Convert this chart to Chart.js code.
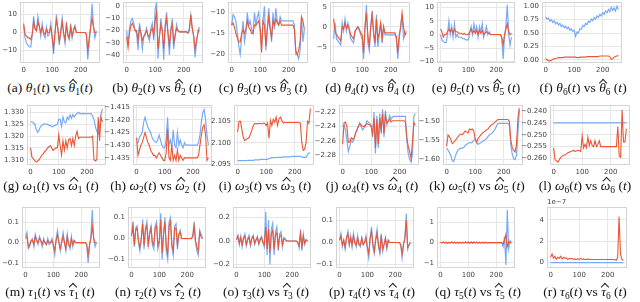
<!DOCTYPE html>
<html><head><meta charset="utf-8">
<script src="https://cdn.jsdelivr.net/npm/chart.js@4.4.0/dist/chart.umd.min.js"></script>
<style>
body{margin:0;width:640px;height:302px;background:#fff;position:relative;overflow:hidden}
canvas{position:absolute}
.cap{position:absolute;font-family:"Liberation Serif","DejaVu Serif",serif;font-size:13.5px;line-height:15px;white-space:nowrap;transform:translateX(-50%);color:#111}
.cap i{font-style:italic}
.cap sub{font-size:0.7em;vertical-align:-0.3em;line-height:0}
.cap .hat{position:relative;display:inline-block}
.cap .hat::after{content:"";position:absolute;left:50%;margin-left:-1.6px;top:0px;width:4.5px;height:4.5px;border-left:1px solid #222;border-top:1px solid #222;transform:rotate(45deg)}
.off{position:absolute;font-family:"DejaVu Sans",sans-serif;font-size:7px;color:#444}
</style></head><body>
<script>
// time axis (categories)
const T = [0,5,10,15,20,25,30,35,40,45,50,55,60,65,70,75,80,85,90,95,100,105,110,115,120,125,130,135,140,145,150,155,160,165,170,175,180,185,190,195,200,205,210,215,220,225,230,235,240,245,250,255];
const X_TICKS = [0,100,200];

// (a) theta1
const thetaTrue1 = [4,-3,-6,-7,-8,-8,-2,9,2,1, 9,4,-2,5,-1,-3,3,-2,-1,5, -3,-12,0,10,2,-7,1,8,-1,-6, 6,-2,-4,5,-3,2,4,0,0,0, 0,0,0,0,-1, -15,-5,4,16,3,-3,1];
const thetaPred1 = [5,-1,-2,-3,-3,-4,-1,6,2,1, 6,3,0,3,0,-1,2,0,0,3, -2,-9,0,7,2,-5,0,6,0,-4, 4,-1,-3,3,-2,1,3,0,0,0, 0,0,0,0,-1, -10,-3,3,8,3,0,0];
// (b) theta2
const thetaTrue2 = [-20,-32,-18,-12,-10,-14,-20,-22,-36,-14, -22,-35,-25,-22,-18,-25,-28,-18,-14,-28, -2,2,-43,-25,-10,-20,-44,-15,-5,-22, -40,-18,-10,-35,-24,-15,-20,-21,-21,-21, -21,-21,-21,-22,-18, -7,-18,-25,-42,-30,-20,-17];
const thetaPred2 = [-25,-34,-22,-16,-14,-17,-20,-20,-28,-18, -22,-28,-25,-23,-20,-24,-25,-20,-18,-24, -12,-5,-35,-25,-15,-20,-35,-18,-10,-22, -32,-20,-15,-30,-24,-18,-20,-21,-21,-21, -21,-21,-21,-22,-20, -7,-18,-24,-35,-28,-22,-19];
// (c) theta3
const thetaTrue3 = [-13,-10.5,-11,-12,-15,-18,-20,-16,-12,-17, -15,-10,-13,-12,-14,-15,-10,-13,-11,-10, -14,-18,-12,-8.5,-19,-14,-9,-13,-17,-10, -14,-9,-12,-13,-11,-12,-12,-12,-12,-12, -12,-12,-12,-12,-13, -20,-20,-21,-19,-11,-17,-14];
const thetaPred3 = [-13,-12.5,-13.5,-15,-16,-17,-17,-15,-14,-15, -14,-12,-13.5,-14,-15,-15,-13,-13,-12.5,-12, -14,-19.5,-12,-13,-18,-14,-11,-14,-16,-12, -13,-11.5,-12.5,-13,-12,-13,-13,-13,-13,-13, -13,-13,-13,-13,-14, -19,-20,-19,-17,-11,-12,-14];
// (d) theta4
const thetaTrue4 = [-3,1,-3,-3.5,-4,-4.5,1,-1,2,-1, 1,-1,-3,-3.5,-4,-1.5,-0.5,0,-1,-2, -3,-8,0,5.5,-4,-6,0,4,-2,-5, 3,-5,-2,1,-4,0,-2,-2,-2,-2, -2,-2,-2,-2,-3, -8,-3,0,3,-3,-2,-1];
const thetaPred4 = [2,-1,-2,-2.5,-3,-3.5,0,-0.5,1,-0.5, 0.5,-0.5,-2,-2.5,-3,-1,-0.5,0,-0.5,-1.5, -2,-6.5,0,3.5,-2,-5,0,3,-1,-4, 2,-3,-1.5,1,-3,0,-1.5,-1.5,-1.5,-1.5, -1.5,-1.5,-1.5,-1.5,-2.5, -6.5,-2,0,3.5,0,-2,-1.5];
// (e) theta5
const thetaTrue5 = [0,-2,-2.5,-3,-3,0,5,0,3,-1, 4,-1,0,-1,-1,-1,-1.5,-1.5,-2,-2, -2,0.5,3,0,4,1,3,-1,3,1, 4,-1,1,3,0,1,0,0,0,0, 0,0,0,0,-1, -9,-1,3,11,0,-4,-1];
const thetaPred5 = [2,1,-1,0,0,1,2,1,2,0.5, 2,1,1,0.5,0.5,0.5,0,0.5,0,0, 0,1,2,0.5,1.5,0.5,1.5,0,1.5,0.5, 1.5,0,0.5,1,0.5,0.5,0,0,0,0, 0,0,0,0,-1, -4,0,2,4,1,0,0.5];
// (f) theta6
const thetaTrue6 = [0.80,0.76,0.78,0.72,0.75,0.70,0.73,0.67,0.70,0.65, 0.68,0.62,0.65,0.60,0.63,0.58,0.61,0.55,0.58,0.53, 0.55,0.44,0.52,0.50,0.58,0.57,0.64,0.62,0.68,0.66, 0.72,0.70,0.76,0.73,0.79,0.76,0.82,0.79,0.85,0.82, 0.88,0.85,0.91,0.88,0.94, 0.90,0.98,0.92,0.97,0.91,1.00,0.94];
const thetaPred6 = [0.02,0.00,-0.02,-0.02,-0.01,0.01,0.02,0.03,0.03,0.04, 0.04,0.04,0.04,0.05,0.05,0.05,0.05,0.05,0.05,0.05, 0.05,0.05,0.04,0.04,0.05,0.05,0.05,0.05,0.05,0.06, 0.06,0.06,0.06,0.06,0.06,0.06,0.06,0.06,0.07,0.07, 0.07,0.07,0.07,0.07,0.07, 0.06,0.01,0.02,0.05,0.06,0.07,0.08];
// (g) omega1
const omegaTrue1 = [1.326,1.326,1.3255,1.325,1.323,1.3215,1.3225,1.324,1.3245,1.325, 1.325,1.325,1.325,1.3245,1.3245,1.324,1.324,1.3245,1.3245,1.325, 1.327,1.327,1.324,1.328,1.326,1.3255,1.328,1.327,1.329,1.3275, 1.329,1.328,1.329,1.3295,1.330,1.3295,1.3295,1.3295,1.3295,1.3295, 1.3295,1.3295,1.3295,1.3295,1.3285, 1.327,1.324,1.322,1.321,1.3245,1.329,1.3315];
const omegaPred1 = [1.315,1.311,1.3105,1.3095,1.309,1.3095,1.310,1.311,1.312,1.3125, 1.3135,1.314,1.315,1.3155,1.316,1.315,1.314,1.3145,1.315,1.315, 1.3205,1.316,1.312,1.318,1.314,1.318,1.315,1.3185,1.319,1.316, 1.319,1.316,1.320,1.322,1.319,1.3195,1.3195,1.3195,1.3195,1.3195, 1.3195,1.3195,1.3195,1.3195,1.320, 1.310,1.3095,1.310,1.328,1.318,1.328,1.326];
// (h) omega2
const omegaTrue2 = [-1.429,-1.429,-1.427,-1.426,-1.425,-1.421,-1.419,-1.421,-1.423,-1.424, -1.425,-1.427,-1.428,-1.4285,-1.429,-1.428,-1.426,-1.428,-1.430,-1.431, -1.431,-1.428,-1.419,-1.430,-1.428,-1.431,-1.424,-1.430,-1.431,-1.425, -1.430,-1.428,-1.430,-1.431,-1.429,-1.430,-1.430,-1.430,-1.430,-1.430, -1.430,-1.430,-1.430,-1.430,-1.429, -1.426,-1.421,-1.417,-1.416,-1.420,-1.426,-1.430];
const omegaPred2 = [-1.427,-1.434,-1.432,-1.430,-1.429,-1.427,-1.425,-1.427,-1.429,-1.430, -1.432,-1.433,-1.434,-1.434,-1.435,-1.434,-1.433,-1.434,-1.435,-1.436, -1.436,-1.433,-1.4235,-1.435,-1.436,-1.430,-1.436,-1.434,-1.436,-1.432, -1.436,-1.434,-1.435,-1.436,-1.435,-1.435,-1.435,-1.435,-1.435,-1.435, -1.435,-1.435,-1.435,-1.435,-1.434, -1.430,-1.426,-1.423,-1.422,-1.426,-1.436,-1.435];
// (i) omega3
const omegaTrue3 = [2.0958,2.0958,2.0958,2.0958,2.0958,2.0958,2.0958,2.0959,2.0959,2.0959, 2.0959,2.0959,2.0960,2.0960,2.0960,2.0960,2.0961,2.0961,2.0961,2.0961, 2.0961,2.0961,2.0963,2.0964,2.0965,2.0965,2.0965,2.0965,2.0966,2.0966, 2.0966,2.0966,2.0967,2.0967,2.0967,2.0967,2.0967,2.0967,2.0968,2.0968, 2.0968,2.0968,2.0968,2.0968,2.0968, 2.0967,2.0966,2.0966,2.0966,2.0972,2.0976,2.0976];
const omegaPred3 = [2.1025,2.1050,2.1050,2.1030,2.1012,2.1005,2.1008,2.1010,2.1012,2.1020, 2.1030,2.1040,2.1045,2.1045,2.1044,2.1045,2.1045,2.1044,2.1046,2.1045, 2.1040,2.1046,2.1010,2.1052,2.1040,2.1055,2.1048,2.1060,2.1040,2.1056, 2.1060,2.1052,2.1046,2.1047,2.1047,2.1047,2.1047,2.1047,2.1047,2.1047, 2.1047,2.1047,2.1047,2.1047,2.1045, 2.1000,2.0982,2.0985,2.1000,2.1050,2.1045,2.1080];
// (j) omega4
const omegaTrue4 = [-2.240,-2.238,-2.245,-2.260,-2.275,-2.268,-2.260,-2.262,-2.258,-2.250, -2.245,-2.240,-2.235,-2.240,-2.245,-2.242,-2.240,-2.232,-2.234,-2.236, -2.238,-2.255,-2.220,-2.278,-2.225,-2.270,-2.222,-2.250,-2.216,-2.255, -2.218,-2.238,-2.232,-2.225,-2.230,-2.227,-2.226,-2.226,-2.226,-2.226, -2.226,-2.226,-2.226,-2.226,-2.226, -2.260,-2.278,-2.286,-2.290,-2.278,-2.225,-2.222];
const omegaPred4 = [-2.265,-2.235,-2.234,-2.240,-2.262,-2.262,-2.256,-2.258,-2.256,-2.250, -2.245,-2.240,-2.236,-2.238,-2.240,-2.240,-2.238,-2.236,-2.237,-2.238, -2.240,-2.250,-2.228,-2.270,-2.230,-2.265,-2.228,-2.245,-2.222,-2.250, -2.224,-2.235,-2.233,-2.230,-2.234,-2.232,-2.232,-2.232,-2.232,-2.232, -2.232,-2.232,-2.232,-2.232,-2.234, -2.255,-2.268,-2.275,-2.285,-2.260,-2.235,-2.238];
// (k) omega5
const omegaTrue5 = [-1.570,-1.575,-1.582,-1.590,-1.603,-1.605,-1.592,-1.582,-1.575,-1.572, -1.570,-1.570,-1.568,-1.563,-1.560,-1.558,-1.555,-1.556,-1.555,-1.550, -1.545,-1.555,-1.560,-1.558,-1.555,-1.553,-1.550,-1.548,-1.545,-1.540, -1.535,-1.533,-1.530,-1.525,-1.520,-1.512,-1.505,-1.505,-1.505,-1.505, -1.505,-1.505,-1.505,-1.505,-1.510, -1.560,-1.585,-1.598,-1.600,-1.588,-1.530,-1.470];
const omegaPred5 = [-1.565,-1.535,-1.540,-1.548,-1.558,-1.555,-1.550,-1.545,-1.540,-1.535, -1.533,-1.535,-1.530,-1.525,-1.528,-1.530,-1.520,-1.522,-1.520,-1.525, -1.545,-1.555,-1.545,-1.540,-1.535,-1.530,-1.528,-1.525,-1.522,-1.520, -1.515,-1.510,-1.508,-1.505,-1.502,-1.498,-1.495,-1.495,-1.495,-1.495, -1.495,-1.495,-1.495,-1.495,-1.500, -1.550,-1.568,-1.575,-1.580,-1.560,-1.490,-1.465];
// (l) omega6
const omegaTrue6 = [-0.245,-0.245,-0.245,-0.245,-0.245,-0.245,-0.245,-0.245,-0.245,-0.245, -0.245,-0.245,-0.245,-0.245,-0.245,-0.245,-0.245,-0.245,-0.245,-0.245, -0.245,-0.245,-0.245,-0.245,-0.245,-0.245,-0.245,-0.245,-0.245,-0.245, -0.245,-0.245,-0.245,-0.245,-0.245,-0.245,-0.245,-0.245,-0.245,-0.245, -0.245,-0.245,-0.245,-0.245,-0.245, -0.245,-0.245,-0.245,-0.245,-0.245,-0.245,-0.245];
const omegaPred6 = [-0.2555,-0.2605,-0.2610,-0.2615,-0.2605,-0.2595,-0.2590,-0.2585,-0.2585,-0.2580, -0.2575,-0.2573,-0.2570,-0.2568,-0.2565,-0.2570,-0.2568,-0.2565,-0.2567,-0.2570, -0.2505,-0.2555,-0.2540,-0.2555,-0.2510,-0.2545,-0.2525,-0.2545,-0.2550,-0.2525, -0.2550,-0.2540,-0.2525,-0.2550,-0.2550,-0.2550,-0.2550,-0.2550,-0.2550,-0.2550, -0.2550,-0.2550,-0.2550,-0.2550,-0.2550, -0.2465,-0.2590,-0.2595,-0.2395,-0.2530,-0.2530,-0.2475];
// (m) tau1
const tauTrue1 = [0.03,0.05,-0.03,-0.02,0.01,0.02,-0.02,0.04,0.01,-0.01, 0.03,0.01,-0.02,0.02,0.00,-0.01,0.02,-0.01,0.00,0.02, -0.02,-0.06,0.02,0.06,0.00,-0.04,0.01,0.05,0.00,-0.04, 0.04,-0.01,-0.03,0.03,-0.02,0.01,0.00,0.00,0.00,0.00, 0.00,0.00,0.00,0.00,-0.01, -0.10,-0.02,0.03,0.16,0.02,-0.02,0.00];
const tauPred1 = [0.02,0.03,-0.02,-0.01,0.01,0.01,-0.01,0.03,0.01,0.00, 0.02,0.01,-0.01,0.01,0.00,-0.01,0.01,0.00,0.00,0.01, -0.01,-0.04,0.01,0.04,0.00,-0.03,0.00,0.03,0.00,-0.03, 0.03,-0.01,-0.02,0.02,-0.01,0.01,0.00,0.00,0.00,0.00, 0.00,0.00,0.00,0.00,-0.01, -0.06,-0.01,0.02,0.08,0.02,0.00,0.00];
// (n) tau2
const tauTrue2 = [0.02,0.08,-0.04,0.05,0.06,-0.02,-0.06,0.00,0.09,-0.05, 0.05,0.08,-0.04,0.03,0.06,-0.03,-0.05,0.06,0.08,-0.05, -0.02,0.12,-0.10,0.02,0.10,-0.06,-0.10,0.08,0.10,-0.04, -0.08,0.06,0.07,-0.05,0.02,0.04,0.00,0.00,0.00,0.00, 0.00,0.00,0.00,0.00,0.01, 0.08,-0.02,-0.06,-0.08,0.04,0.02,0.00];
const tauPred2 = [0.01,0.06,-0.03,0.04,0.05,-0.01,-0.04,0.00,0.07,-0.03, 0.04,0.06,-0.03,0.02,0.05,-0.02,-0.03,0.05,0.06,-0.03, -0.01,0.09,-0.07,0.02,0.08,-0.04,-0.07,0.06,0.08,-0.03, -0.06,0.05,0.05,-0.03,0.02,0.03,0.00,0.00,0.00,0.00, 0.00,0.00,0.00,0.00,0.01, 0.06,-0.01,-0.04,-0.06,0.03,0.01,0.00];
// (o) tau3
const tauTrue3 = [0.02,0.05,-0.03,0.04,-0.05,0.03,0.06,-0.04,0.02,0.05, -0.04,0.03,0.05,-0.03,0.01,0.04,-0.03,0.02,0.04,-0.02, -0.05,0.25,-0.12,0.18,-0.20,0.10,0.15,-0.12,0.08,0.12, -0.08,0.06,0.08,-0.05,0.03,0.02,0.00,0.00,0.00,0.00, 0.00,0.00,0.00,0.00,-0.01, -0.06,0.10,-0.08,0.06,-0.03,0.01,0.00];
const tauPred3 = [0.01,0.04,-0.02,0.03,-0.03,0.02,0.04,-0.03,0.01,0.03, -0.03,0.02,0.04,-0.02,0.01,0.03,-0.02,0.01,0.03,-0.01, -0.03,0.12,-0.07,0.10,-0.10,0.06,0.09,-0.07,0.05,0.07, -0.05,0.04,0.05,-0.03,0.02,0.01,0.00,0.00,0.00,0.00, 0.00,0.00,0.00,0.00,-0.01, -0.04,0.06,-0.05,0.04,-0.02,0.01,0.00];
// (p) tau4
const tauTrue4 = [0.01,0.04,-0.02,0.01,-0.03,0.02,0.05,-0.01,0.03,-0.02, 0.04,0.00,-0.02,0.03,-0.01,-0.02,0.02,-0.01,0.00,0.03, -0.03,-0.07,0.02,0.07,-0.02,-0.05,0.02,0.06,-0.02,-0.05, 0.04,-0.04,-0.01,0.02,-0.03,0.01,0.00,0.00,0.00,0.00, 0.00,0.00,0.00,0.00,-0.01, -0.07,-0.01,0.02,0.13,-0.03,-0.01,0.00];
const tauPred4 = [0.01,0.03,-0.01,0.01,-0.02,0.02,0.04,-0.01,0.02,-0.01, 0.03,0.00,-0.01,0.02,-0.01,-0.01,0.02,-0.01,0.00,0.02, -0.02,-0.05,0.02,0.05,-0.01,-0.04,0.01,0.04,-0.01,-0.04, 0.03,-0.03,-0.01,0.02,-0.02,0.01,0.00,0.00,0.00,0.00, 0.00,0.00,0.00,0.00,-0.01, -0.05,-0.01,0.02,0.10,-0.02,-0.01,0.00];
// (q) tau5
const tauTrue5 = [0.02,-0.02,0.03,-0.02,0.02,-0.03,0.02,-0.02,0.03,-0.02, 0.02,-0.02,0.02,-0.03,0.02,-0.02,0.02,-0.02,0.03,-0.02, 0.03,-0.03,0.04,-0.03,0.03,-0.02,0.03,-0.03,0.02,-0.02, 0.02,-0.02,0.02,-0.01,0.01,0,0,0,0,0, 0,0,0,0,0, -0.2,0.3,-1.1,1.6,-0.3,0.1,0];
const tauPred5 = [0.01,-0.01,0.02,-0.01,0.01,-0.02,0.01,-0.01,0.02,-0.01, 0.01,-0.01,0.01,-0.02,0.01,-0.01,0.01,-0.01,0.02,-0.01, 0.02,-0.02,0.02,-0.02,0.02,-0.01,0.02,-0.02,0.01,-0.01, 0.01,-0.01,0.01,0,0,0,0,0,0,0, 0,0,0,0,0, -0.05,0.1,0.4,-0.2,0.05,0,0];
// (r) tau6, values in units of 1e-7
const tauTrue6 = [0,0,0,0,0,0,0,0,0,0, 0,0,0,0,0,0,0,0,0,0, 0,0,0,0,0,0,0,0,0,0, 0,0,0,0,0,0,0,0,0,0, 0,0,0,0,0, 0,0,0,0,0,0,0];
const tauPred6 = [0.5,0.8,0.4,0.6,0.3,0.5,0.4,0.6,0.35,0.5, 0.4,0.45,0.3,0.4,0.35,0.4,0.3,0.35,0.3,0.35, 0.3,0.4,0.3,0.35,0.3,0.3,0.35,0.3,0.3,0.3, 0.3,0.3,0.3,0.3,0.3,0.3,0.3,0.3,0.3,0.3, 0.3,0.3,0.3,0.3,0.3, 0.3,0.2,0.5,4.3,0.8,0.3,0.2];

// y tick labels per panel
const Y_TICKS_A=[-10,0,10], Y_TICKS_B=[-40,-30,-20,-10,0], Y_TICKS_C=[-20,-15,-10], Y_TICKS_D=[-5,0,5], Y_TICKS_E=[-10,-5,0,5,10], Y_TICKS_F=[0,0.25,0.5,0.75,1.0];
const Y_TICKS_G=[1.310,1.315,1.320,1.325,1.330], Y_TICKS_H=[-1.435,-1.430,-1.425,-1.420,-1.415], Y_TICKS_I=[2.095,2.100,2.105], Y_TICKS_J=[-2.28,-2.26,-2.24,-2.22], Y_TICKS_K=[-1.60,-1.55,-1.50], Y_TICKS_L=[-0.260,-0.255,-0.250,-0.245,-0.240];
const Y_TICKS_M=[-0.1,0.0,0.1], Y_TICKS_N=[-0.1,0.0,0.1], Y_TICKS_O=[-0.2,0.0,0.2], Y_TICKS_P=[-0.1,0.0,0.1], Y_TICKS_Q=[-1,0,1], Y_TICKS_R=[0,2,4];

const CAPTIONS = [
 '(a) <i>θ</i><sub>1</sub>(<i>t</i>) vs <i class="hat">θ</i><sub>1</sub>(<i>t</i>)',
 '(b) <i>θ</i><sub>2</sub>(<i>t</i>) vs <i class="hat">θ</i><sub>2</sub> (<i>t</i>)',
 '(c) <i>θ</i><sub>3</sub>(<i>t</i>) vs <i class="hat">θ</i><sub>3</sub> (<i>t</i>)',
 '(d) <i>θ</i><sub>4</sub>(<i>t</i>) vs <i class="hat">θ</i><sub>4</sub> (<i>t</i>)',
 '(e) <i>θ</i><sub>5</sub>(<i>t</i>) vs <i class="hat">θ</i><sub>5</sub> (<i>t</i>)',
 '(f) <i>θ</i><sub>6</sub>(<i>t</i>) vs <i class="hat">θ</i><sub>6</sub> (<i>t</i>)',
 '(g) <i>ω</i><sub>1</sub>(<i>t</i>) vs <i class="hat">ω</i><sub>1</sub> (<i>t</i>)',
 '(h) <i>ω</i><sub>2</sub>(<i>t</i>) vs <i class="hat">ω</i><sub>2</sub> (<i>t</i>)',
 '(i) <i>ω</i><sub>3</sub>(<i>t</i>) vs <i class="hat">ω</i><sub>3</sub> (<i>t</i>)',
 '(j) <i>ω</i><sub>4</sub>(<i>t</i>) vs <i class="hat">ω</i><sub>4</sub> (<i>t</i>)',
 '(k) <i>ω</i><sub>5</sub>(<i>t</i>) vs <i class="hat">ω</i><sub>5</sub> (<i>t</i>)',
 '(l) <i>ω</i><sub>6</sub>(<i>t</i>) vs <i class="hat">ω</i><sub>6</sub> (<i>t</i>)',
 '(m) <i>τ</i><sub>1</sub>(<i>t</i>) vs <i class="hat">τ</i><sub>1</sub> (<i>t</i>)',
 '(n) <i>τ</i><sub>2</sub>(<i>t</i>) vs <i class="hat">τ</i><sub>2</sub> (<i>t</i>)',
 '(o) <i>τ</i><sub>3</sub>(<i>t</i>) vs <i class="hat">τ</i><sub>3</sub> (<i>t</i>)',
 '(p) <i>τ</i><sub>4</sub>(<i>t</i>) vs <i class="hat">τ</i><sub>4</sub> (<i>t</i>)',
 '(q) <i>τ</i><sub>5</sub>(<i>t</i>) vs <i class="hat">τ</i><sub>5</sub> (<i>t</i>)',
 '(r) <i>τ</i><sub>6</sub>(<i>t</i>) vs <i class="hat">τ</i><sub>6</sub> (<i>t</i>)'
];

// layout: plot box [left, top, right, bottom], y range, decimals, caption centre
const PANELS = [
 {box:[20,2,100,63],   y:[-17,17],        yt:Y_TICKS_A, d:0, b:thetaTrue1, r:thetaPred1, cx:50,  cy:80},
 {box:[123,2,203,63],  y:[-46.5,3.5],     yt:Y_TICKS_B, d:0, b:thetaTrue2, r:thetaPred2, cx:157, cy:80},
 {box:[228,2,308,63],  y:[-22,-7.5],      yt:Y_TICKS_C, d:0, b:thetaTrue3, r:thetaPred3, cx:263, cy:80},
 {box:[330,2,410,63],  y:[-9,6.2],        yt:Y_TICKS_D, d:0, b:thetaTrue4, r:thetaPred4, cx:370, cy:80},
 {box:[437,2,515,63],  y:[-10.5,12],      yt:Y_TICKS_E, d:0, b:thetaTrue5, r:thetaPred5, cx:476, cy:80},
 {box:[542,2,622,63],  y:[-0.06,1.08],    yt:Y_TICKS_F, d:2, b:thetaTrue6, r:thetaPred6, cx:583, cy:80},
 {box:[27,105,106,165],  y:[1.3078,1.3331],  yt:Y_TICKS_G, d:3, b:omegaTrue1, r:omegaPred1, cx:51,  cy:178},
 {box:[133,105,212,165], y:[-1.4378,-1.4142],yt:Y_TICKS_H, d:3, b:omegaTrue2, r:omegaPred2, cx:158, cy:178},
 {box:[234,105,314,165], y:[2.0948,2.1088],  yt:Y_TICKS_I, d:3, b:omegaTrue3, r:omegaPred3, cx:265, cy:178},
 {box:[339,105,419,165], y:[-2.294,-2.210],  yt:Y_TICKS_J, d:2, b:omegaTrue4, r:omegaPred4, cx:372, cy:178},
 {box:[443,105,523,165], y:[-1.614,-1.457],  yt:Y_TICKS_K, d:2, b:omegaTrue5, r:omegaPred5, cx:477, cy:178},
 {box:[550,105,630,165], y:[-0.2627,-0.2375],yt:Y_TICKS_L, d:3, b:omegaTrue6, r:omegaPred6, cx:585, cy:178},
 {box:[22,207,100,268],  y:[-0.125,0.175],   yt:Y_TICKS_M, d:1, b:tauTrue1, r:tauPred1, cx:50,  cy:284},
 {box:[128,207,206,268], y:[-0.14,0.15],     yt:Y_TICKS_N, d:1, b:tauTrue2, r:tauPred2, cx:158, cy:284},
 {box:[233,207,311,268], y:[-0.23,0.29],     yt:Y_TICKS_O, d:1, b:tauTrue3, r:tauPred3, cx:266, cy:284},
 {box:[336,207,414,268], y:[-0.115,0.16],    yt:Y_TICKS_P, d:1, b:tauTrue4, r:tauPred4, cx:372, cy:284},
 {box:[437,207,515,268], y:[-1.25,1.75],     yt:Y_TICKS_Q, d:0, b:tauTrue5, r:tauPred5, cx:478, cy:284},
 {box:[547,207,627,268], y:[-0.5,5.2],       yt:Y_TICKS_R, d:0, b:tauTrue6, r:tauPred6, cx:585, cy:284}
];

const frame = {id:'frame', beforeDatasetsDraw(ch){
  const a=ch.chartArea, c=ch.ctx; c.save(); c.strokeStyle='#d4d4d4'; c.lineWidth=1;
  c.strokeRect(Math.round(a.left)+0.5, Math.round(a.top)+0.5, Math.round(a.right-a.left)-1, Math.round(a.bottom-a.top)-1);
  c.restore(); }};

const fmt = (v,d)=>{ const s=Math.abs(v).toFixed(d); return (v<-1e-12?'\u2212':'')+s; };
const YW=36, PT=9, PR=9, XH=14;

PANELS.forEach((p,k)=>{
  const [x0,y0,x1,y1]=p.box, w=x1-x0, h=y1-y0;
  const cv=document.createElement('canvas');
  cv.width=w+YW+PR; cv.height=h+PT+XH;
  cv.style.left=(x0-YW)+'px'; cv.style.top=(y0-PT)+'px';
  document.body.appendChild(cv);
  const tf={family:'DejaVu Sans', size:7};
  new Chart(cv,{type:'line',
    data:{datasets:[
      {data:T.map((t,i)=>({x:t,y:p.b[i]})), borderColor:'#78aaf6', borderWidth:1.2, order:2},
      {data:T.map((t,i)=>({x:t,y:p.r[i]})), borderColor:'#ec5634', borderWidth:1.1, order:1}
    ]},
    options:{responsive:false, animation:false, events:[],
      layout:{padding:{top:PT,right:PR,left:0,bottom:0}},
      plugins:{legend:{display:false}, tooltip:{enabled:false}},
      elements:{point:{radius:0}, line:{tension:0}},
      scales:{
        x:{type:'linear', min:-12.75, max:267.75,
           afterBuildTicks:s=>{s.ticks=X_TICKS.map(v=>({value:v}));},
           ticks:{font:tf, color:'#444', padding:3, maxRotation:0, callback:v=>String(v)},
           grid:{color:'#e6e6e6', drawTicks:false}, border:{display:false},
           afterFit:s=>{s.height=XH;}},
        y:{type:'linear', min:p.y[0], max:p.y[1],
           afterBuildTicks:s=>{s.ticks=p.yt.map(v=>({value:v}));},
           ticks:{font:tf, color:'#444', padding:3, callback:v=>fmt(v,p.d)},
           grid:{color:'#e6e6e6', drawTicks:false}, border:{display:false},
           afterFit:s=>{s.width=YW;}}
      }},
    plugins:[frame]});
  const cap=document.createElement('div'); cap.className='cap';
  cap.innerHTML=CAPTIONS[k]; cap.style.left=p.cx+'px'; cap.style.top=p.cy+'px';
  document.body.appendChild(cap);
});
const off=document.createElement('div'); off.className='off'; off.textContent='1e\u22127';
off.style.left='547px'; off.style.top='198px'; document.body.appendChild(off);
</script>
</body></html>
